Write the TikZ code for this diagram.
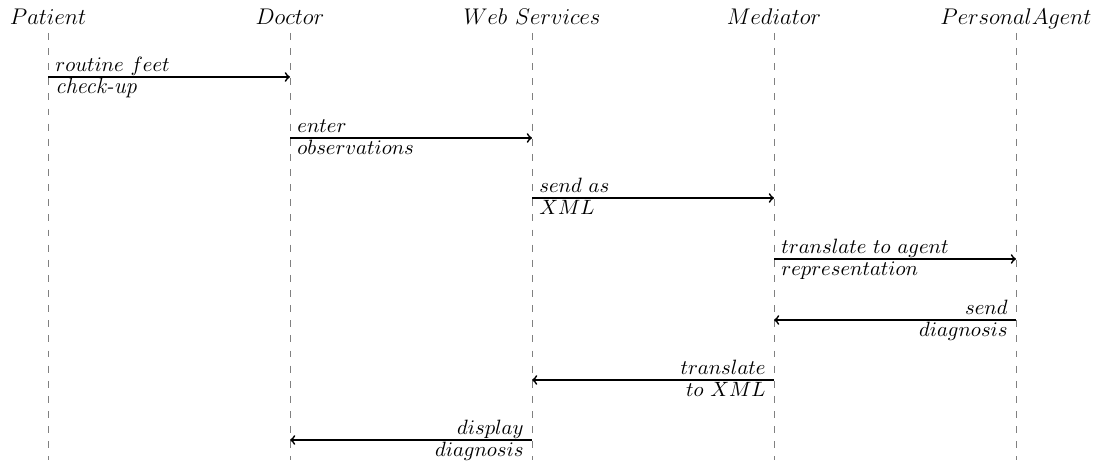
\documentclass[tikz,border=0pt]{standalone}
\begin{document}
\begin{tikzpicture}[x=0.529pt,y=-0.529pt,
  head/.style={inner sep=0pt, anchor=base, font=\fontsize{12.7}{15}\selectfont},
  life/.style={gray, dash pattern=on 3.6pt off 4.4pt, line width=0.4pt},
  msgline/.style={->, line width=0.9pt},
  lblL/.style={inner sep=0pt, anchor=base west, font=\fontsize{11.1}{13}\selectfont},
  lblR/.style={inner sep=0pt, anchor=base east, font=\fontsize{11.1}{13}\selectfont}]
\useasboundingbox (0,0) rectangle (1102,467);
% heads
\node[head] (pat) at (48,25) {$Patient$};
\node[head] (doc) at (290,25) {$Doctor$};
\node[head] (web) at (532,25) {$Web\ Services$};
\node[head] (med) at (774,25) {$Mediator$};
\node[head] (agt) at (1016,25) {$PersonalAgent$};
% lifelines
\foreach \n/\x in {pat/48,doc/290,web/532,med/774,agt/1016}{
  \coordinate (\n-top) at (\x,33);
  \coordinate (\n-bot) at (\x,460);
  \draw[life] (\n-top) -- (\n-bot);
}
% message 1
\coordinate (m1s) at (48,77); \coordinate (m1e) at (290,77);
\draw[msgline] (m1s) -- (m1e);
\node[lblL] (m1a) at (55,72) {$routine\ feet$};
\node[lblL, font=\fontsize{11.9}{14}\selectfont] (m1b) at (55,94) {\textit{check-up}};
% message 2
\coordinate (m2s) at (290,138); \coordinate (m2e) at (532,138);
\draw[msgline] (m2s) -- (m2e);
\node[lblL] (m2a) at (297,133) {$enter$};
\node[lblL] (m2b) at (297,155) {$observations$};
% message 3
\coordinate (m3s) at (532,198); \coordinate (m3e) at (774,198);
\draw[msgline] (m3s) -- (m3e);
\node[lblL] (m3a) at (539,193) {$send\ as$};
\node[lblL] (m3b) at (539,215) {$XML$};
% message 4
\coordinate (m4s) at (774,259); \coordinate (m4e) at (1016,259);
\draw[msgline] (m4s) -- (m4e);
\node[lblL] (m4a) at (781,254) {$translate\ to\ agent$};
\node[lblL] (m4b) at (781,276) {$representation$};
% message 5
\coordinate (m5s) at (1016,320); \coordinate (m5e) at (774,320);
\draw[msgline] (m5s) -- (m5e);
\node[lblR] (m5a) at (1008,315) {$send$};
\node[lblR] (m5b) at (1008,337) {$diagnosis$};
% message 6
\coordinate (m6s) at (774,380); \coordinate (m6e) at (532,380);
\draw[msgline] (m6s) -- (m6e);
\node[lblR] (m6a) at (766,375) {$translate$};
\node[lblR] (m6b) at (766,397) {$to\ XML$};
% message 7
\coordinate (m7s) at (532,440); \coordinate (m7e) at (290,440);
\draw[msgline] (m7s) -- (m7e);
\node[lblR] (m7a) at (524,435) {$display$};
\node[lblR] (m7b) at (524,457) {$diagnosis$};
\end{tikzpicture}
\end{document}
